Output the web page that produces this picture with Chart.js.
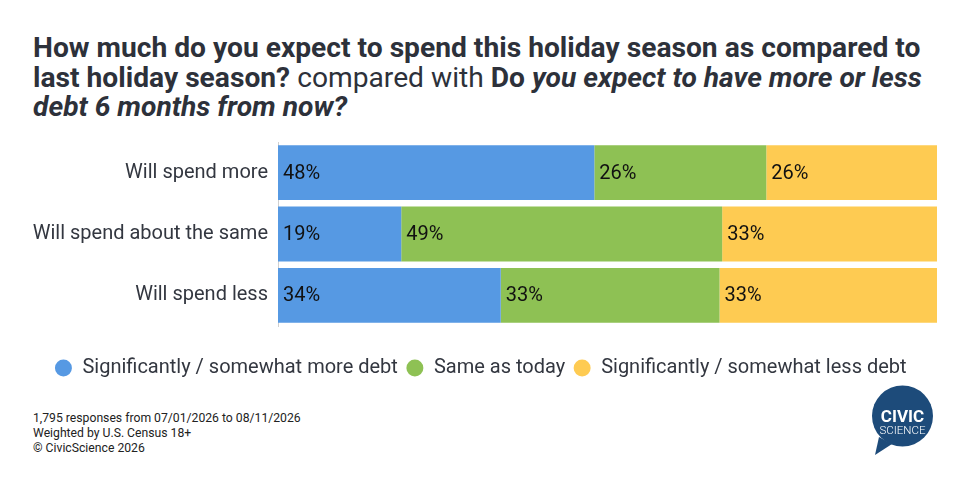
<!DOCTYPE html>
<html>
<head>
<meta charset="utf-8">
<script src="https://cdn.jsdelivr.net/npm/chart.js@4"></script>
<style>
  body { margin: 0; background: #fff; font-family: Roboto, sans-serif; }
  #wrap { position: relative; width: 966px; height: 489px; overflow: hidden; }
  #title { position: absolute; left: 33px; top: 33px; width: 920px; font-size: 28.2px; line-height: 29.5px; color: #2d313a; }
  #title b { font-weight: 700; }
  #title .n { font-weight: 400; }
  #box { position: absolute; left: 0; top: 128px; width: 966px; height: 262px; }
  #foot { position: absolute; left: 33px; top: 411px; font-size: 12.2px; line-height: 15px; color: #222; }
  #logo { position: absolute; left: 866px; top: 385px; }
</style>
</head>
<body>
<div id="wrap">
  <div id="title"><b>How much do you expect to spend this holiday season as compared to last holiday season?</b> <span class="n">compared with</span> <b>Do <i>you expect to have more or less debt 6 months from now?</i></b></div>
  <div id="box"><canvas id="myChart"></canvas></div>
  <div id="foot">1,795 responses from 07/01/2026 to 08/11/2026<br>Weighted by U.S. Census 18+<br>© CivicScience 2026</div>
  <svg id="logo" width="76" height="76" viewBox="0 0 76 76">
    <path d="M9 70 L13 52 L26 59 Z" fill="#1d4b7a"/>
    <circle cx="36.5" cy="31" r="30.5" fill="#1d4b7a"/>
    <text x="36.5" y="37" text-anchor="middle" font-family="Roboto" font-weight="700" font-size="17" fill="#fff">CIVIC</text>
    <text x="36.5" y="49" text-anchor="middle" font-family="Roboto" font-weight="300" font-size="11.5" fill="#fff">SCIENCE</text>
  </svg>
</div>
<script>
var categories = ["Will spend more", "Will spend about the same", "Will spend less"];
var seriesNames = ["Significantly / somewhat more debt", "Same as today", "Significantly / somewhat less debt"];
var moreDebt = [48.0, 18.7, 33.8];
var sameDebt = [26.1, 48.7, 33.2];
var lessDebt = [25.9, 32.6, 33.0];
var colors = ["#5699e3", "#8ec154", "#fecb52"];

// draws the % value at the start of each bar segment
var barLabels = {
  id: 'barLabels',
  afterDatasetsDraw: function(chart) {
    var ctx = chart.ctx;
    ctx.save();
    ctx.font = '20px Roboto';
    ctx.fillStyle = '#111';
    ctx.textBaseline = 'middle';
    ctx.textAlign = 'left';
    chart.data.datasets.forEach(function(ds, i) {
      chart.getDatasetMeta(i).data.forEach(function(bar, j) {
        var left = Math.min(bar.x, bar.base);
        ctx.fillText(Math.round(ds.data[j]) + '%', left + 5, bar.y + 1);
      });
    });
    ctx.restore();
  }
};

// legend is centred on the whole page, not on the padded box
var legendShift = {
  id: 'legendShift',
  afterLayout: function(chart) {
    chart.legend.left += 12;
    chart.legend.right += 12;
  }
};

var ctx = document.getElementById('myChart').getContext('2d');
var chart = new Chart(ctx, {
  type: 'bar',
  data: {
    labels: categories,
    datasets: [
      { label: seriesNames[0], data: moreDebt, backgroundColor: colors[0] },
      { label: seriesNames[1], data: sameDebt, backgroundColor: colors[1] },
      { label: seriesNames[2], data: lessDebt, backgroundColor: colors[2] }
    ]
  },
  options: {
    indexAxis: 'y',
    responsive: true,
    maintainAspectRatio: false,
    animation: false,
    layout: { padding: { top: 4, right: 29, bottom: 2, left: 0 } },
    datasets: { bar: { barPercentage: 0.895, categoryPercentage: 1 } },
    scales: {
      x: {
        stacked: true, min: 0, max: 100,
        grid: { display: false },
        border: { display: false },
        ticks: { display: false },
        afterFit: function(scale) { scale.height = 24; }
      },
      y: {
        stacked: true,
        grid: { display: false },
        border: { display: true, color: '#d0d0d0', width: 1 },
        ticks: { color: '#333740', font: { family: 'Roboto', size: 20 }, padding: 2 },
        afterFit: function(scale) { scale.width = 278; }
      }
    },
    plugins: {
      legend: {
        position: 'bottom',
        labels: {
          usePointStyle: true,
          pointStyle: 'circle',
          boxWidth: 18,
          boxHeight: 12,
          padding: 8,
          color: '#333740',
          font: { family: 'Roboto', size: 20 }
        }
      },
      tooltip: { enabled: false }
    }
  },
  plugins: [barLabels, legendShift]
});
</script>
</body>
</html>
